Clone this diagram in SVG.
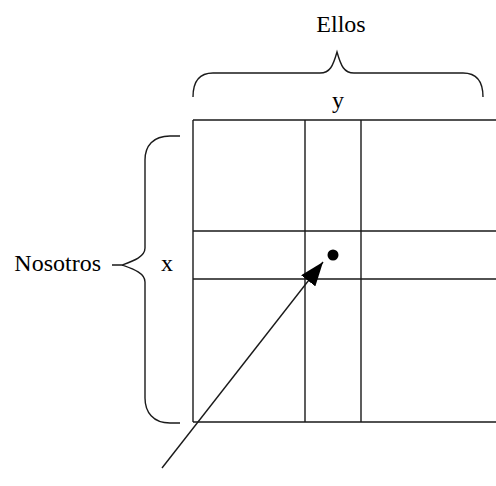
<svg xmlns="http://www.w3.org/2000/svg" width="496" height="486" viewBox="0 0 496 486">
  <style>
    .ln { stroke: #1a1a1a; stroke-width: 1.4; fill: none; }
    .lbl { font-family: "Liberation Serif", "Times New Roman", serif; font-size: 24px; fill: #000; }
  </style>
  <defs>
    <marker id="head" viewBox="0 0 24 18" refX="24" refY="9" markerWidth="24" markerHeight="18" markerUnits="userSpaceOnUse" orient="auto">
      <path d="M0,0 L24,9 L0,18 Z" fill="#000"/>
    </marker>
  </defs>
  <rect width="496" height="486" fill="#fff"/>

  <!-- grid -->
  <g id="grid">
    <path class="ln" d="M193,120 H496 M193,231 H496 M193,279 H496 M193,422 H496"/>
    <path class="ln" d="M193,120 V422 M305,120 V422 M361,120 V422"/>
  </g>

  <!-- brace over the columns -->
  <g id="brace-top">
    <path class="ln" d="M193,97 C193,83 198,73 213,73 H320 C330,73 333,66 337,52 C341,66 344,73 354,73 H463 C478,73 483,83 483,97"/>
    <text class="lbl" x="341" y="32" text-anchor="middle">Ellos</text>
    <text class="lbl" x="338" y="108" text-anchor="middle">y</text>
  </g>

  <!-- brace beside the rows -->
  <g id="brace-left">
    <path class="ln" d="M180,136 H170 C153,136 145,146 145,160 V248 C145,257 133,261 122,265 H112 M122,265 C133,269 145,273 145,282 V398 C145,412 153,423 170,423 H180"/>
    <text class="lbl" x="101" y="271" text-anchor="end">Nosotros</text>
    <text class="lbl" x="167" y="271" text-anchor="middle">x</text>
  </g>

  <!-- marked cell -->
  <g id="point">
    <circle cx="333" cy="255" r="5.5" fill="#000"/>
  </g>

  <g id="connectors">
    <line class="ln" x1="162" y1="468" x2="323" y2="262" marker-end="url(#head)"/>
  </g>
</svg>
